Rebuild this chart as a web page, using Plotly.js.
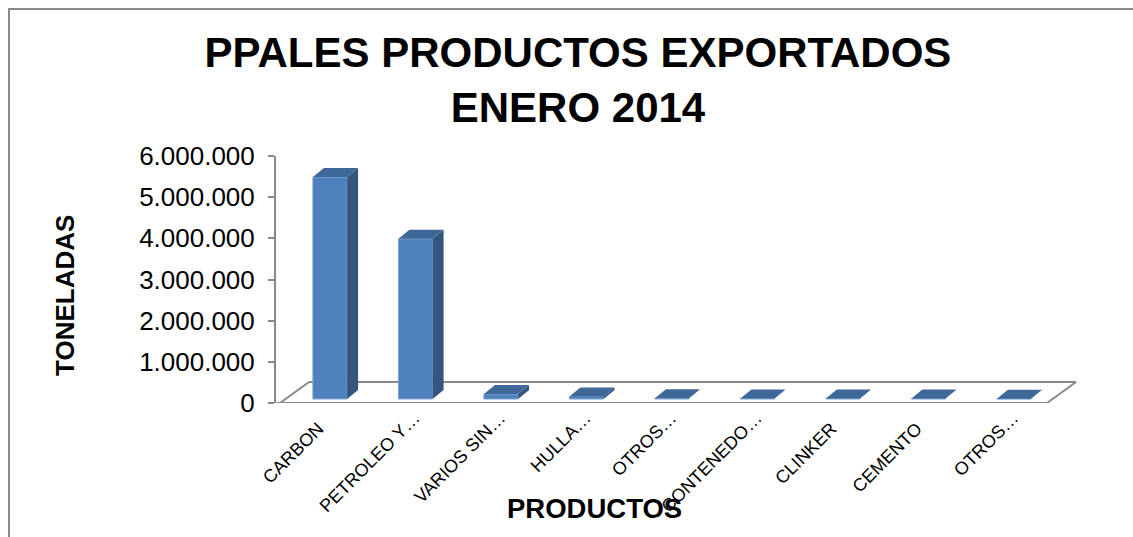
<!DOCTYPE html>
<html>
<head>
<meta charset="utf-8">
<script src="https://cdn.plot.ly/plotly-3.0.1.min.js"></script>
<style>
  html, body { margin: 0; padding: 0; width: 1133px; height: 537px; overflow: hidden; background: #fff; }
  #frame { position: absolute; left: 8px; top: 8px; width: 2000px; height: 2000px; border: 2px solid #8a8a8a; box-sizing: border-box; }
  #chart { position: absolute; left: 0; top: 0; width: 1133px; height: 537px; }
</style>
</head>
<body>
<div id="frame"></div>
<div id="chart"></div>
<script>
// ---- data ----
const categories = ['CARBON', 'PETROLEO Y…', 'VARIOS SIN…', 'HULLA…', 'OTROS…', 'CONTENEDO…', 'CLINKER', 'CEMENTO', 'OTROS…'];
const toneladas = [5390000, 3890000, 120000, 60000, 20000, 15000, 12000, 10000, 5000];
const yTickVals = [0, 1000000, 2000000, 3000000, 4000000, 5000000, 6000000];
const chartTitle = 'PPALES PRODUCTOS EXPORTADOS<br>ENERO 2014';
const yTitle = 'TONELADAS';
const xTitle = 'PRODUCTOS';

// ---- styling / pseudo-3D geometry ----
const FONT = 'Arial, "Liberation Sans", sans-serif';
const GRAY = '#898989';
const PX_PER_CAT = 85.5;
const PLOT_W = 804, PLOT_H = 247;
const Y_MAX = 6000000;
const PX_PER_UNIT = PLOT_H / Y_MAX;
const X0 = -0.6316;
const X1 = X0 + PLOT_W / PX_PER_CAT;
const BAR_W = 0.4;
const DX = 11 / PX_PER_CAT, DY = 9 / PX_PER_UNIT;   // bar depth
const LIFT = 4 / PX_PER_UNIT;                       // bars sit slightly back on the floor
const FX = 29 / PX_PER_CAT, FY = 21 / PX_PER_UNIT;  // floor depth
const LABEL_SHIFT = -1 / PX_PER_CAT;                // tick label anchor offset
const PAD = '\u00a0\u00a0\u00a0';                   // untruncated labels sit lower, as in the original
const n = categories.length;
const idx = categories.map((c, i) => i);
const tickText = categories.map(c => c.endsWith('…') ? c : c + PAD);

const floorL = X0 + 4 / PX_PER_CAT;
const floorR = (n - 1) + 0.386;

// side & top faces derived from the values
const sideX = [], sideY = [], topX = [], topY = [];
toneladas.forEach((v, i) => {
  const r = i + BAR_W / 2, l = i - BAR_W / 2, t = LIFT + v;
  sideX.push(r, r + DX, r + DX, r, r, null);
  sideY.push(LIFT, LIFT + DY, t + DY, t, LIFT, null);
  topX.push(l, l + DX, r + DX, r, l, null);
  topY.push(t, t + DY, t + DY, t, t, null);
});

const traces = [
  {
    type: 'bar', x: idx, y: toneladas, base: LIFT, width: BAR_W,
    marker: { color: '#4F81BD', line: { color: '#7FA3D3', width: 1 } },
    hoverinfo: 'skip', showlegend: false
  },
  {
    type: 'scatter', mode: 'lines', x: sideX, y: sideY, fill: 'toself',
    fillcolor: '#34567E', line: { width: 0, color: '#34567E' },
    hoverinfo: 'skip', showlegend: false
  },
  {
    type: 'scatter', mode: 'lines', x: topX, y: topY, fill: 'toself',
    fillcolor: '#3E6898', line: { width: 0, color: '#3E6898' },
    hoverinfo: 'skip', showlegend: false
  }
];

const floorLine = { color: GRAY, width: 2 };
const layout = {
  width: 1133, height: 537,
  paper_bgcolor: 'rgba(0,0,0,0)', plot_bgcolor: 'rgba(0,0,0,0)',
  margin: { l: 276, r: 1133 - 276 - PLOT_W, t: 156, b: 537 - 156 - PLOT_H, pad: 0 },
  separators: ',.',
  showlegend: false,
  bargap: 0,
  title: {
    text: chartTitle,
    font: { family: FONT, size: 42, weight: 'bold', color: '#000' },
    x: 578 / 1133, xref: 'container', xanchor: 'center',
    y: 1 - 67 / 537, yref: 'container', yanchor: 'top'
  },
  xaxis: {
    range: [X0, X1], showgrid: false, zeroline: false, showline: false,
    tickmode: 'array', tickvals: idx.map(i => i + LABEL_SHIFT), ticktext: tickText,
    tickangle: -45, ticks: '', ticklabelstandoff: 0,
    tickfont: { family: FONT, size: 18, color: '#000' },
    fixedrange: true
  },
  yaxis: {
    range: [0, Y_MAX], showgrid: false, zeroline: false,
    showline: true, linecolor: GRAY, linewidth: 2,
    ticks: 'outside', ticklen: 6, tickcolor: GRAY, tickwidth: 2,
    tickmode: 'array', tickvals: yTickVals, tickformat: ',d',
    tickfont: { family: FONT, size: 26, color: '#000' },
    ticklabelstandoff: 8,
    fixedrange: true
  },
  shapes: [
    { type: 'line', xref: 'x', yref: 'y', x0: X0, y0: 0, x1: floorR, y1: 0, line: floorLine, layer: 'below' },
    { type: 'line', xref: 'x', yref: 'y', x0: floorL, y0: 0, x1: floorL + FX, y1: FY, line: floorLine, layer: 'below' },
    { type: 'line', xref: 'x', yref: 'y', x0: floorL + FX, y0: FY, x1: floorR + FX, y1: FY, line: floorLine, layer: 'below' },
    { type: 'line', xref: 'x', yref: 'y', x0: floorR, y0: 0, x1: floorR + FX, y1: FY, line: floorLine, layer: 'below' }
  ],
  annotations: [
    {
      text: yTitle, textangle: -90, showarrow: false,
      xref: 'paper', yref: 'paper',
      x: (65 - 276) / PLOT_W, y: (403 - 296) / PLOT_H,
      xanchor: 'center', yanchor: 'middle',
      font: { family: FONT, size: 26, weight: 'bold', color: '#000' }
    },
    {
      text: xTitle, showarrow: false,
      xref: 'paper', yref: 'paper',
      x: (594 - 276) / PLOT_W, y: -(508 - 403) / PLOT_H,
      xanchor: 'center', yanchor: 'middle',
      font: { family: FONT, size: 27.5, weight: 'bold', color: '#000' }
    }
  ]
};

Plotly.newPlot('chart', traces, layout, { staticPlot: true, displayModeBar: false });
</script>
</body>
</html>
